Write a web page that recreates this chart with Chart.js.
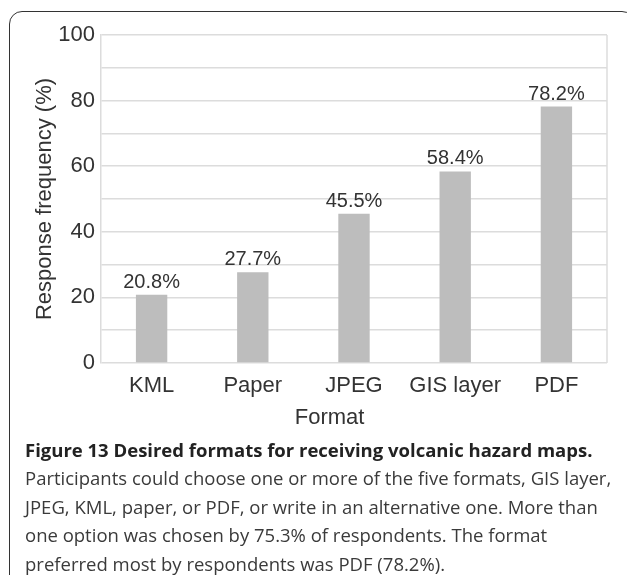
<!DOCTYPE html>
<html>
<head>
<meta charset="utf-8">
<script src="https://cdn.jsdelivr.net/npm/chart.js@4"></script>
<style>
  html, body { margin: 0; padding: 0; background: #fff; }
  body { width: 627px; height: 575px; position: relative; overflow: hidden; }
  #frame {
    position: absolute; left: 9px; top: 11px; width: 624px; height: 700px;
    border: 1.5px solid #333; border-radius: 13px;
  }
  #chartBox { position: absolute; left: 0; top: 0; width: 627px; height: 440px; }
  #caption {
    position: absolute; left: 25px; top: 436px;
    font-family: "Open Sans", sans-serif; font-size: 18.5px; line-height: 28.4px;
    color: #3a3a3a; white-space: nowrap;
  }
  #caption b { color: #222; }
</style>
</head>
<body>
<div id="frame"></div>
<div id="chartBox"><canvas id="formatChart" width="627" height="440"></canvas></div>
<div id="caption">
  <b>Figure 13 Desired formats for receiving volcanic hazard maps.</b><br>
  Participants could choose one or more of the five formats, GIS layer,<br>
  JPEG, KML, paper, or PDF, or write in an alternative one. More than<br>
  one option was chosen by 75.3% of respondents. The format<br>
  preferred most by respondents was PDF (78.2%).
</div>
<script>
const formats = ["KML", "Paper", "JPEG", "GIS layer", "PDF"];
const responsePct = [20.8, 27.7, 45.5, 58.4, 78.2];
const yTickLabels = [0, 20, 40, 60, 80, 100];

const gridColor = "#dcdcdc";
const textColor = "#333";

// value labels above each bar
const barLabels = {
  id: "barLabels",
  afterDatasetsDraw(chart) {
    const ctx = chart.ctx;
    const meta = chart.getDatasetMeta(0);
    ctx.save();
    ctx.font = "20px 'Liberation Sans', Arial, sans-serif";
    ctx.fillStyle = textColor;
    ctx.textAlign = "center";
    ctx.textBaseline = "alphabetic";
    meta.data.forEach((bar, i) => {
      ctx.fillText(responsePct[i].toFixed(1) + "%", bar.x, bar.y - 7);
    });
    ctx.restore();
  }
};

// right edge of the plot box
const plotFrame = {
  id: "plotFrame",
  beforeDatasetsDraw(chart) {
    const a = chart.chartArea;
    const ctx = chart.ctx;
    ctx.save();
    ctx.strokeStyle = gridColor;
    ctx.lineWidth = 1.5;
    ctx.beginPath();
    ctx.moveTo(a.right, a.top);
    ctx.lineTo(a.right, a.bottom);
    ctx.stroke();
    ctx.restore();
  }
};

const ctx = document.getElementById("formatChart").getContext("2d");
new Chart(ctx, {
  type: "bar",
  data: {
    labels: formats,
    datasets: [{
      label: "Response frequency (%)",
      data: responsePct,
      backgroundColor: "#bdbdbd",
      barPercentage: 0.31,
      categoryPercentage: 1
    }]
  },
  options: {
    responsive: false,
    animation: false,
    layout: { padding: { top: 35, right: 20, bottom: 0, left: 0 } },
    plugins: {
      legend: { display: false },
      tooltip: { enabled: false }
    },
    scales: {
      x: {
        grid: { display: false },
        border: { display: false },
        ticks: {
          color: textColor,
          padding: 2,
          maxRotation: 0,
          font: { family: "'Liberation Sans', Arial, sans-serif", size: 22 }
        },
        title: {
          display: true,
          text: "Format        ",
          color: textColor,
          padding: { top: 0, bottom: 9 },
          font: { family: "'Liberation Sans', Arial, sans-serif", size: 22 }
        },
        afterFit(scale) { scale.height = 77; }
      },
      y: {
        min: 0,
        max: 100,
        grid: { color: gridColor, lineWidth: 1.5, drawTicks: false },
        border: { display: true, color: gridColor, width: 1.5 },
        ticks: {
          stepSize: 10,
          padding: 6,
          color: textColor,
          font: { family: "'Liberation Sans', Arial, sans-serif", size: 22 },
          callback: v => yTickLabels.includes(v) ? v : ""
        },
        title: {
          display: true,
          text: "Response frequency (%)",
          color: textColor,
          padding: { top: 32, bottom: 0 },
          font: { family: "'Liberation Sans', Arial, sans-serif", size: 22 }
        },
        afterFit(scale) { scale.width = 101; }
      }
    }
  },
  plugins: [barLabels, plotFrame]
});
</script>
</body>
</html>
